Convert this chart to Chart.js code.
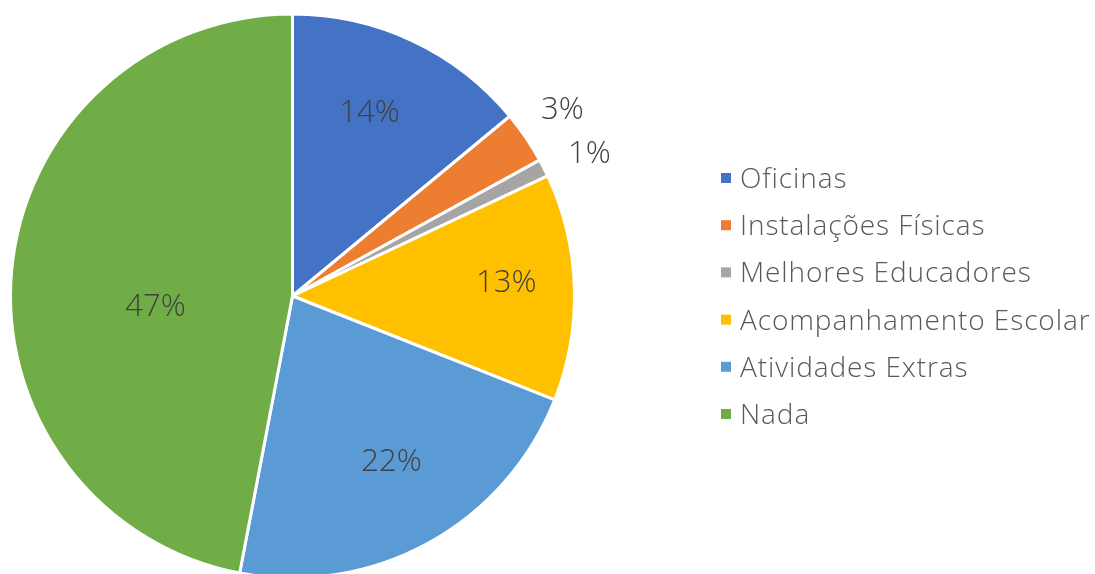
<!DOCTYPE html>
<html>
<head>
<meta charset="utf-8">
<script src="https://cdn.jsdelivr.net/npm/chart.js@4/dist/chart.umd.min.js"></script>
<style>
    html, body { margin: 0; padding: 0; background: #fff; overflow: hidden; }
    #wrap { position: relative; width: 1095px; height: 592px; }
</style>
</head>
<body>
<div id="wrap"><canvas id="pie-canvas"></canvas></div>
<script>
const categories = ["Oficinas", "Instalações Físicas", "Melhores Educadores", "Acompanhamento Escolar", "Atividades Extras", "Nada"];
const percentValues = [14, 3, 1, 13, 22, 47];
const sliceColors = ['#4472C4', '#ED7D31', '#A5A5A5', '#FFC000', '#5B9BD5', '#70AD47'];

// label placement: distance from centre (fraction of radius) and a small turn (degrees) off the slice middle
const labelRadius = [0.71, 1.167, 1.17, 0.76, 0.68, 0.487];
const labelTurn = [-2.6, -0.7, 1.1, -2.2, -2.3, -9.2];

const FONT = '"Open Sans", "DejaVu Sans", sans-serif';

const pieLabels = {
    id: 'pieLabels',
    afterDatasetsDraw(chart) {
        const ctx = chart.ctx;
        const meta = chart.getDatasetMeta(0);
        ctx.save();
        ctx.font = '300 31px ' + FONT;
        ctx.fillStyle = '#404040';
        ctx.textAlign = 'center';
        ctx.textBaseline = 'middle';
        meta.data.forEach((arc, i) => {
            const p = arc.getProps(['x', 'y', 'startAngle', 'endAngle', 'outerRadius'], true);
            const mid = (p.startAngle + p.endAngle) / 2 + labelTurn[i] * Math.PI / 180;
            const r = p.outerRadius * labelRadius[i];
            ctx.fillText(percentValues[i] + '%', p.x + Math.cos(mid) * r, p.y + Math.sin(mid) * r + 2);
        });
        ctx.restore();
    }
};

const sideLegend = {
    id: 'sideLegend',
    afterDraw(chart) {
        const ctx = chart.ctx;
        ctx.save();
        ctx.font = '300 28px ' + FONT;
        ctx.letterSpacing = '0.9px';
        ctx.textBaseline = 'middle';
        categories.forEach((name, i) => {
            const y = 178 + i * 47.2;
            ctx.fillStyle = sliceColors[i];
            ctx.fillRect(721, y - 5, 10, 10);
            ctx.fillStyle = '#595959';
            ctx.fillText(name, 740, y + 2);
        });
        ctx.restore();
    }
};

document.addEventListener("DOMContentLoaded", () => {
    const ctxPie = document.getElementById('pie-canvas').getContext('2d');
    new Chart(ctxPie, {
        type: 'pie',
        data: {
            labels: categories,
            datasets: [{
                data: percentValues,
                backgroundColor: sliceColors,
                borderColor: '#ffffff',
                borderWidth: 3
            }]
        },
        options: {
            responsive: true,
            maintainAspectRatio: false,
            animation: false,
            layout: {
                padding: { left: 9, right: 519, top: 12, bottom: 12 }
            },
            plugins: {
                legend: { display: false },
                tooltip: { enabled: false }
            }
        },
        plugins: [pieLabels, sideLegend]
    });
});
</script>
</body>
</html>
